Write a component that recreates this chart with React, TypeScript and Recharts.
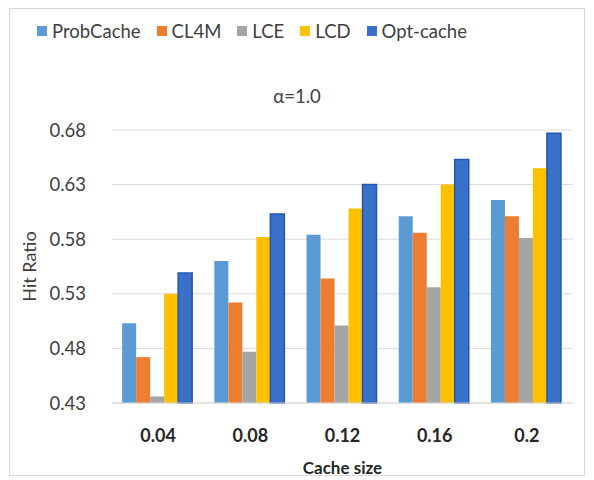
import { Bar, BarChart, CartesianGrid, XAxis, YAxis } from "recharts";

const cacheSizes = ["0.04", "0.08", "0.12", "0.16", "0.2"];
const probCache = [0.503, 0.56, 0.584, 0.601, 0.616];
const cl4m = [0.472, 0.522, 0.544, 0.586, 0.601];
const lce = [0.436, 0.477, 0.501, 0.536, 0.581];
const lcd = [0.53, 0.582, 0.608, 0.63, 0.645];
const optCache = [0.549, 0.603, 0.63, 0.653, 0.677];
const yTicks = [0.43, 0.48, 0.53, 0.58, 0.63, 0.68];

const seriesNames = ["ProbCache", "CL4M", "LCE", "LCD", "Opt-cache"];
const seriesColors = ["#5b9bd5", "#ed7d31", "#a5a5a5", "#ffc000", "#3a70c8"];

const data = cacheSizes.map((size, i) => ({
  size,
  ProbCache: probCache[i],
  CL4M: cl4m[i],
  LCE: lce[i],
  LCD: lcd[i],
  "Opt-cache": optCache[i],
}));

const font = "Lato, 'Open Sans', sans-serif";

export default function App() {
  return (
    <div style={{ position: "relative", width: 594, height: 480, background: "#fff", fontFamily: font }}>
      <style>{"body{margin:0}"}</style>
      <div style={{ position: "absolute", left: 9, top: 8, width: 576, height: 468, border: "1px solid #d9d9d9", boxSizing: "border-box" }} />
      {/* legend */}
      <div style={{ position: "absolute", left: 37, top: 19, display: "flex", gap: 16, fontSize: 18.5, color: "#404040", lineHeight: "24px" }}>
        {seriesNames.map((name, i) => (
          <div key={name} style={{ display: "flex", alignItems: "center", gap: 5 }}>
            <span style={{ width: 10, height: 10, background: seriesColors[i], display: "inline-block" }} />
            <span>{name}</span>
          </div>
        ))}
      </div>
      <div style={{ position: "absolute", left: 0, width: 594, top: 85, textAlign: "center", fontSize: 18.5, color: "#404040" }}>α=1.0</div>
      <BarChart width={594} height={480} data={data} margin={{ top: 130, right: 21, bottom: 4, left: 14 }} barCategoryGap="11%" barGap={0}>
        <CartesianGrid vertical={false} stroke="#d9d9d9" />
        <XAxis
          dataKey="size"
          tickLine={false}
          axisLine={{ stroke: "#d9d9d9" }}
          height={73}
          tick={{ fill: "#262626", fontSize: 18, fontWeight: 700, dy: 18 }}
          label={{ value: "Cache size", position: "insideBottom", offset: 2, fill: "#262626", fontSize: 17, fontWeight: 700 }}
        />
        <YAxis
          domain={[0.43, 0.68]}
          ticks={yTicks}
          tickFormatter={(v: number) => v.toFixed(2)}
          tickLine={false}
          axisLine={false}
          width={98}
          tickMargin={20}
          tick={{ fill: "#404040", fontSize: 18.5 }}
          label={{ value: "Hit Ratio", angle: -90, position: "insideLeft", offset: 16, fill: "#404040", fontSize: 18, style: { textAnchor: "middle" } }}
        />
        <Bar dataKey="ProbCache" fill={seriesColors[0]} isAnimationActive={false} />
        <Bar dataKey="CL4M" fill={seriesColors[1]} isAnimationActive={false} />
        <Bar dataKey="LCE" fill={seriesColors[2]} isAnimationActive={false} />
        <Bar dataKey="LCD" fill={seriesColors[3]} isAnimationActive={false} />
        <Bar dataKey="Opt-cache" fill={seriesColors[4]} stroke="#1f58b0" strokeWidth={1.5} isAnimationActive={false} />
      </BarChart>
    </div>
  );
}
